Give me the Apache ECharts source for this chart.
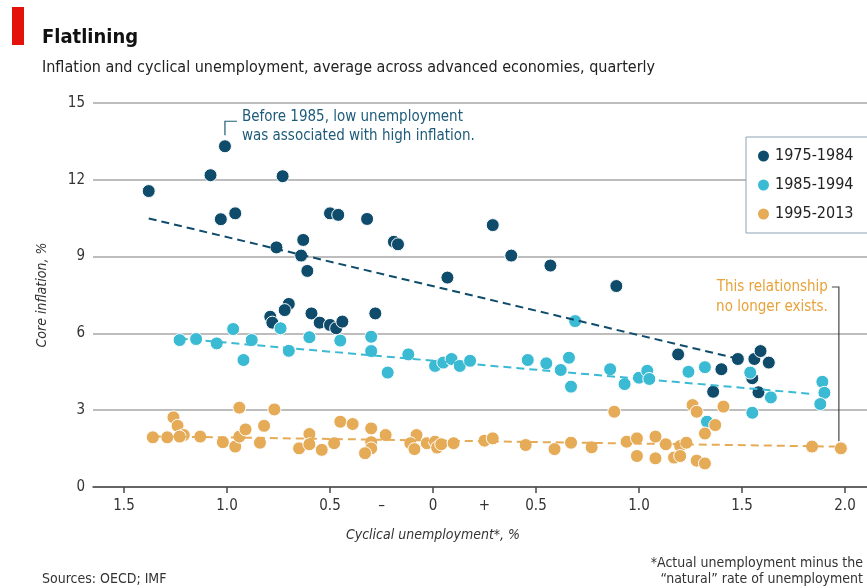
<!DOCTYPE html>
<html>
<head>
<meta charset="utf-8">
<script src="https://cdn.jsdelivr.net/npm/echarts@6.0.0/dist/echarts.min.js"></script>
<style>
html, body { margin: 0; padding: 0; background: #fff; }
#chart { width: 867px; height: 588px; }
</style>
</head>
<body>
<div id="chart"></div>
<script>
var FONT = '"DejaVu Sans Condensed", "Liberation Sans Narrow", "Noto Sans", sans-serif';

// series names and colours
var seriesNames = ['1975-1984', '1985-1994', '1995-2013'];
var seriesColors = ['#0f4c6b', '#3bbad3', '#e5ab57'];

// 1975-1984 quarters: [cyclical unemployment, core inflation]
var data1975 = [
    [-1.38, 11.56], [-1.08, 12.18], [-1.01, 13.31], [-0.73, 12.14], [-1.03, 10.46],
    [-0.96, 10.69], [-0.50, 10.69], [-0.46, 10.63], [-0.76, 9.36], [-0.63, 9.65],
    [-0.64, 9.04], [-0.61, 8.44], [-0.32, 10.47], [-0.19, 9.58], [-0.17, 9.48],
    [0.29, 10.23], [0.38, 9.04], [0.57, 8.65], [0.07, 8.18], [0.89, 7.85],
    [-0.70, 7.15], [-0.72, 6.91], [-0.79, 6.65], [-0.78, 6.42], [-0.59, 6.78],
    [-0.55, 6.42], [-0.50, 6.33], [-0.47, 6.20], [-0.44, 6.46], [-0.28, 6.78],
    [1.19, 5.18], [1.48, 5.00], [1.40, 4.60], [1.36, 3.72], [1.56, 5.00],
    [1.59, 5.31], [1.63, 4.86], [1.55, 4.25], [1.58, 3.70]
];

// 1985-1994 quarters
var data1985 = [
    [-1.23, 5.74], [-1.15, 5.78], [-1.05, 5.61], [-0.97, 6.17], [-0.92, 4.96],
    [-0.88, 5.74], [-0.74, 6.20], [-0.70, 5.32], [-0.60, 5.85], [-0.45, 5.72],
    [-0.30, 5.87], [-0.30, 5.31], [-0.22, 4.47], [-0.12, 5.18], [0.02, 4.77],
    [0.01, 4.73], [0.05, 4.86], [0.09, 5.00], [0.13, 4.73], [0.18, 4.93],
    [0.46, 4.96], [0.55, 4.83], [0.66, 5.05], [0.62, 4.57], [0.67, 3.92],
    [0.69, 6.48], [0.86, 4.60], [0.93, 4.02], [1.00, 4.27], [1.04, 4.54],
    [1.05, 4.22], [1.24, 4.50], [1.32, 4.68], [1.33, 2.55], [1.54, 4.47],
    [1.55, 2.90], [1.64, 3.50], [1.89, 4.11], [1.90, 3.68], [1.88, 3.24]
];

// 1995-2013 quarters
var data1995 = [
    [-1.36, 1.94], [-1.29, 1.94], [-1.26, 2.72], [-1.24, 2.39], [-1.21, 2.03],
    [-1.23, 1.97], [-1.13, 1.97], [-1.02, 1.75], [-0.96, 1.58], [-0.94, 3.10],
    [-0.94, 1.97], [-0.91, 2.25], [-0.84, 1.73], [-0.82, 2.39], [-0.77, 3.03],
    [-0.65, 1.51], [-0.60, 2.07], [-0.60, 1.67], [-0.54, 1.45], [-0.48, 1.71],
    [-0.45, 2.55], [-0.39, 2.46], [-0.30, 2.29], [-0.30, 1.75], [-0.30, 1.51],
    [-0.33, 1.32], [-0.23, 2.03], [-0.08, 2.03], [-0.11, 1.71], [-0.09, 1.48],
    [-0.03, 1.71], [0.01, 1.77], [0.02, 1.54], [0.04, 1.67], [0.10, 1.71],
    [0.25, 1.81], [0.29, 1.90], [0.45, 1.64], [0.59, 1.48], [0.67, 1.73],
    [0.77, 1.55], [0.88, 2.94], [0.94, 1.77], [0.99, 1.90], [0.99, 1.21],
    [1.08, 1.97], [1.08, 1.12], [1.13, 1.67], [1.17, 1.15], [1.20, 1.60],
    [1.20, 1.21], [1.23, 1.73], [1.28, 1.03], [1.32, 0.92], [1.26, 3.20],
    [1.28, 2.94], [1.41, 3.14], [1.37, 2.42], [1.32, 2.09], [1.84, 1.58],
    [1.98, 1.51]
];

// dashed trend lines (end points)
var trend1975 = [[-1.38, 10.49], [1.47, 5.03]];
var trend1985 = [[-1.23, 5.80], [1.85, 3.63]];
var trend1995 = [[-1.36, 1.98], [1.95, 1.58]];

// axes
var xMin = -1.5, xMax = 2.0;
var yTicks = [0, 3, 6, 9, 12, 15];
var signLabels = { '-0.25': '–', '0.25': '+' };

var chart = echarts.init(document.getElementById('chart'));

function scatterSeries(i, data) {
    return {
        name: seriesNames[i],
        type: 'scatter',
        xAxisIndex: 1,
        yAxisIndex: 1,
        data: data,
        symbolSize: 13,
        itemStyle: { color: seriesColors[i], borderColor: '#fff', borderWidth: 1, opacity: 1 },
        z: 3
    };
}

function trendSeries(i, data) {
    return {
        name: 'trend' + i,
        type: 'line',
        xAxisIndex: 1,
        yAxisIndex: 1,
        data: data,
        symbol: 'none',
        silent: true,
        lineStyle: { color: seriesColors[i], width: 2, type: [8, 5] },
        z: 4
    };
}

var option = {
    animation: false,
    backgroundColor: '#fff',
    textStyle: { fontFamily: FONT },
    grid: [
        { left: 93, right: 0, top: 103, bottom: 101 },
        { left: 124, right: 22, top: 103, bottom: 101 }
    ],
    xAxis: [
        {
            gridIndex: 0, type: 'value', min: 0, max: 1, z: 5,
            axisLine: { show: true, lineStyle: { color: '#4a4a4a', width: 1.5 } },
            axisTick: { show: false }, axisLabel: { show: false }, splitLine: { show: false }
        },
        {
            gridIndex: 1, type: 'value', min: xMin, max: xMax, interval: 0.5,
            axisLine: { show: false },
            axisTick: { show: true, length: 6, lineStyle: { color: '#4a4a4a', width: 1.5 } },
            axisLabel: {
                margin: 12, fontSize: 15, color: '#333', fontFamily: FONT,
                formatter: function (v) { return v === 0 ? '0' : Math.abs(v).toFixed(1); }
            },
            splitLine: { show: false }
        },
        {
            gridIndex: 1, type: 'value', min: xMin, max: xMax, interval: 0.25,
            position: 'bottom',
            axisLine: { show: false }, axisTick: { show: false }, splitLine: { show: false },
            axisLabel: {
                margin: 12, fontSize: 15, color: '#333', fontFamily: FONT,
                formatter: function (v) { return signLabels[String(Math.round(v * 100) / 100)] || ''; }
            }
        }
    ],
    yAxis: [
        {
            gridIndex: 0, type: 'value', min: yTicks[0], max: yTicks[yTicks.length - 1], interval: 3,
            axisLine: { show: false }, axisTick: { show: false },
            axisLabel: { margin: 8, fontSize: 15, color: '#333', fontFamily: FONT },
            splitLine: { lineStyle: { color: '#bdbdbd', width: 2 } },
            name: 'Core inflation, %', nameLocation: 'middle', nameGap: 44, nameRotate: 90,
            nameTextStyle: { fontStyle: 'italic', fontSize: 14, color: '#333', fontFamily: FONT }
        },
        {
            gridIndex: 1, type: 'value', min: yTicks[0], max: yTicks[yTicks.length - 1], show: false
        }
    ],
    legend: {
        data: seriesNames,
        orient: 'vertical',
        left: 746, top: 137,
        icon: 'circle',
        itemWidth: 13, itemHeight: 13, itemGap: 13,
        padding: [11, 16, 11, 10],
        borderColor: '#8ea3b5', borderWidth: 1,
        backgroundColor: '#fff',
        textStyle: { fontSize: 16, color: '#222', fontFamily: FONT }
    },
    series: [
        scatterSeries(0, data1975),
        scatterSeries(1, data1985),
        scatterSeries(2, data1995),
        trendSeries(0, trend1975),
        trendSeries(1, trend1985),
        trendSeries(2, trend1995)
    ]
};

chart.setOption(option);

// annotations and titles
var p1 = chart.convertToPixel({ xAxisIndex: 1, yAxisIndex: 1 }, [-1.01, 13.31]);
var p2 = chart.convertToPixel({ xAxisIndex: 1, yAxisIndex: 1 }, [1.98, 1.51]);
var p0 = chart.convertToPixel({ xAxisIndex: 1, yAxisIndex: 1 }, [0, 0]);

chart.setOption({
    graphic: [
        { type: 'rect', shape: { x: 12, y: 7, width: 12, height: 38 }, style: { fill: '#e3120b' } },
        { type: 'text', x: 42, y: 38, style: { text: 'Flatlining', font: 'bold 20px ' + FONT, fill: '#111', textVerticalAlign: 'middle' } },
        { type: 'text', x: 42, y: 68, style: { text: 'Inflation and cyclical unemployment, average across advanced economies, quarterly', font: '16px ' + FONT, fill: '#222', textVerticalAlign: 'middle' } },

        { type: 'polyline', shape: { points: [[p1[0], p1[1] - 11], [p1[0], p1[1] - 25], [p1[0] + 12, p1[1] - 25]] }, style: { stroke: '#1d5b7a', lineWidth: 1.2, fill: null } },
        { type: 'text', x: p1[0] + 17, y: p1[1] - 20, style: { text: 'Before 1985, low unemployment\nwas associated with high inflation.', font: '15px ' + FONT, fill: '#1d5b7a', lineHeight: 19, textVerticalAlign: 'middle' } },

        { type: 'polyline', shape: { points: [[p2[0] - 9, 287], [p2[0] - 2, 287], [p2[0] - 2, p2[1] - 7]] }, style: { stroke: '#444', lineWidth: 1.2, fill: null } },
        { type: 'text', x: p2[0] - 13, y: 297, style: { text: 'This relationship\nno longer exists.', font: '15px ' + FONT, fill: '#e8a238', lineHeight: 20, textAlign: 'right', textVerticalAlign: 'middle' } },

        { type: 'text', x: p0[0], y: 535, style: { text: 'Cyclical unemployment*, %', font: 'italic 14px ' + FONT, fill: '#333', textAlign: 'center', textVerticalAlign: 'middle' } },
        { type: 'text', x: 42, y: 579, style: { text: 'Sources: OECD; IMF', font: '14px ' + FONT, fill: '#333', textVerticalAlign: 'middle' } },
        { type: 'text', x: 863, y: 571, style: { text: '*Actual unemployment minus the\n\u201cnatural\u201d rate of unemployment', font: '14px ' + FONT, fill: '#333', lineHeight: 16, textAlign: 'right', textVerticalAlign: 'middle' } }
    ]
});
</script>
</body>
</html>
